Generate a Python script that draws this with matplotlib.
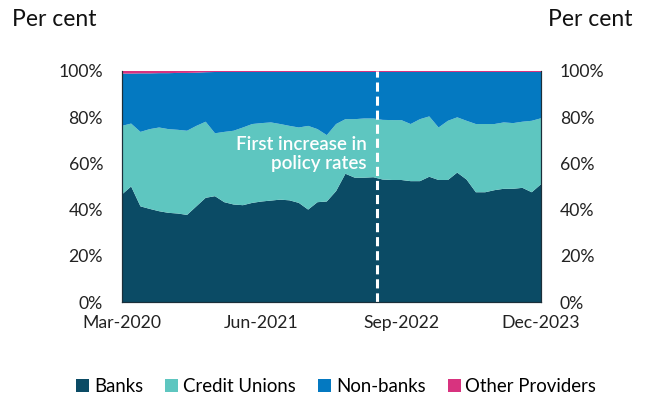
import numpy as np
import matplotlib.pyplot as plt
from matplotlib.patches import Patch

plt.rcParams['font.family'] = ['Lato', 'DejaVu Sans']

# monthly shares of lending, Mar-2020 .. Dec-2023 (per cent)
months = ['Mar-2020', 'Jun-2021', 'Sep-2022', 'Dec-2023']
banks = [46.5, 50.0, 41.4, 40.3, 39.3, 38.6, 38.3, 37.7, 41.4, 45.1,
         45.8, 43.2, 42.2, 41.9, 42.9, 43.5, 43.9, 44.3, 44.0, 42.9,
         40.0, 43.2, 43.5, 48.0, 55.5, 53.8, 53.8, 54.0, 53.0, 52.8,
         52.8, 52.3, 52.3, 54.2, 52.8, 52.8, 56.0, 53.0, 47.5, 47.5,
         48.4, 49.0, 49.0, 49.4, 47.5, 51.0]
credit_unions = [29.7, 27.2, 32.2, 34.5, 36.2, 36.2, 36.2, 36.4, 34.8, 32.9,
                 27.2, 30.4, 31.9, 33.6, 34.1, 33.9, 33.8, 32.7, 32.2, 32.6,
                 36.2, 31.6, 28.7, 29.0, 23.6, 25.3, 25.6, 25.4, 25.8, 25.9,
                 25.9, 24.7, 26.8, 26.1, 22.7, 25.6, 23.9, 25.4, 29.5, 29.5,
                 28.6, 28.7, 28.4, 28.6, 30.9, 28.5]
non_banks = [22.6, 21.6, 25.3, 24.1, 23.5, 24.2, 24.6, 25.0, 23.0, 21.4,
             26.5, 25.9, 25.4, 24.0, 22.5, 22.1, 21.8, 22.5, 23.3, 24.0,
             23.3, 24.7, 27.3, 22.5, 20.4, 20.4, 20.1, 20.1, 20.7, 20.8,
             20.8, 22.5, 20.4, 19.2, 24.0, 21.1, 19.6, 21.1, 22.5, 22.5,
             22.5, 21.8, 22.1, 21.5, 21.1, 20.0]
other = [1.2, 1.2, 1.1, 1.1, 1.0, 1.0, 0.9, 0.9, 0.8, 0.6,
         0.5, 0.5, 0.5, 0.5, 0.5, 0.5, 0.5, 0.5, 0.5, 0.5,
         0.5, 0.5, 0.5, 0.5, 0.5, 0.5, 0.5, 0.5, 0.5, 0.5,
         0.5, 0.5, 0.5, 0.5, 0.5, 0.5, 0.5, 0.5, 0.5, 0.5,
         0.5, 0.5, 0.5, 0.5, 0.5, 0.5]
series_names = ['Banks', 'Credit Unions', 'Non-banks', 'Other Providers']
colors = ['#0B4B65', '#5EC6C0', '#0479C1', '#D8337F']

x = np.arange(len(banks))

fig = plt.figure(figsize=(6.48, 3.98), dpi=100)
ax = fig.add_axes([0.188, 0.241, 0.647, 0.581])
ax.stackplot(x, banks, credit_unions, non_banks, other, colors=colors, linewidth=0)
ax.set_xlim(0, len(banks) - 1)
ax.set_ylim(0, 100)

yt = np.arange(0, 101, 20)
ax.set_yticks(yt)
ax.set_yticklabels([f'{v}%' for v in yt])
ax.set_xticks([0, 15, 30, 45])
ax.set_xticklabels(months)
ax.tick_params(length=0, labelsize=12.7, colors='#222222', pad=9)
ax.tick_params(axis='y', pad=13.5)

ax2 = ax.twinx()
ax2.set_ylim(0, 100)
ax2.set_yticks(yt)
ax2.set_yticklabels([f'{v}%' for v in yt])
ax2.tick_params(length=0, labelsize=12.7, colors='#222222', pad=13.5)

for a in (ax, ax2):
    a.spines['top'].set_visible(False)
    for s in ('left', 'right', 'bottom'):
        a.spines[s].set_color('#1B2F3A')
        a.spines[s].set_linewidth(0.8)

# first policy rate increase
ax.axvline(27.4, color='white', linestyle=(0, (3, 1.6)), linewidth=2.2)
ax.text(26.3, 64, 'First increase in\npolicy rates', color='white', fontsize=13.5,
        fontweight='semibold', ha='right', va='center', linespacing=1.15)

fig.text(0.019, 0.95, 'Per cent', fontsize=16.5, ha='left', va='center', color='#111111')
fig.text(0.976, 0.95, 'Per cent', fontsize=16.5, ha='right', va='center', color='#111111')

handles = [Patch(facecolor=c, edgecolor='none') for c in colors]
fig.legend(handles, series_names, loc='center', bbox_to_anchor=(0.519, 0.028),
           ncol=4, frameon=False, fontsize=13.4, handlelength=0.7, handleheight=0.7,
           handletextpad=0.25, columnspacing=1.2)

fig.savefig('out.png', dpi=100)
